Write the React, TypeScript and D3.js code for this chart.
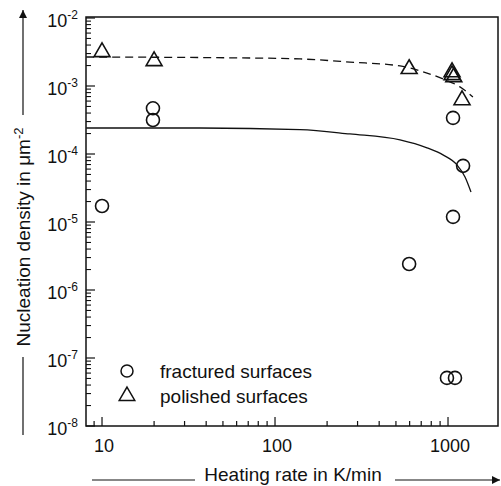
import React from 'react';
import * as d3 from 'd3';

// measured points
const fracturedRate = [10, 19.7, 19.7, 596, 986, 1097, 1069, 1069, 1222];
const fracturedDensity = [1.72e-5, 4.7e-4, 3.16e-4, 2.41e-6, 5.1e-8, 5.1e-8, 3.4e-4, 1.19e-5, 6.7e-5];
const polishedRate = [10, 20, 596, 1055, 1055, 1080, 1205];
const polishedDensity = [3.16e-3, 2.33e-3, 1.78e-3, 1.6e-3, 1.45e-3, 1.35e-3, 6.2e-4];

// fitted curves
const fitFracturedRate = [8.1, 36.8, 139.7, 271, 528, 756, 935, 1128, 1254, 1358];
const fitFracturedDensity = [2.41e-4, 2.41e-4, 2.29e-4, 1.97e-4, 1.61e-4, 1.23e-4, 9.7e-5, 6.9e-5, 4.6e-5, 2.76e-5];
const fitPolishedRate = [8.1, 71.6, 140, 271, 528, 756, 935, 1172, 1393];
const fitPolishedDensity = [2.67e-3, 2.58e-3, 2.5e-3, 2.25e-3, 1.97e-3, 1.55e-3, 1.27e-3, 9.7e-4, 6.9e-4];

const xTickValues = [10, 100, 1000];
const yExponents = [-2, -3, -4, -5, -6, -7, -8];

const width = 501;
const height = 486;
const left = 86, right = 498, top = 18, bottom = 426;

const font = 'Arial, "Liberation Sans", sans-serif';

export default function App() {
  const x = d3.scaleLog().domain([8.08, 1945]).range([left, right]);
  const y = d3.scaleLog().domain([1e-8, 1e-2]).range([bottom, top]);

  const line = d3.line<[number, number]>()
    .x(d => x(d[0]))
    .y(d => y(d[1]))
    .curve(d3.curveMonotoneX);

  const solid = line(fitFracturedRate.map((r, i) => [r, fitFracturedDensity[i]]) as [number, number][]) || '';
  const dashed = line(fitPolishedRate.map((r, i) => [r, fitPolishedDensity[i]]) as [number, number][]) || '';

  const tri = d3.symbol().type(d3.symbolTriangle).size(110)() || '';
  const triLegend = d3.symbol().type(d3.symbolTriangle).size(105)() || '';

  // minor ticks
  const xMinor: number[] = [];
  for (let dec = 1; dec <= 1000; dec *= 10) {
    for (let k = 1; k <= 9; k++) {
      const v = dec * k;
      if (v >= 8.08 && v <= 1945) xMinor.push(v);
    }
  }
  const yMinor: number[] = [];
  for (let e = -8; e < -2; e++) {
    for (let k = 2; k <= 9; k++) yMinor.push(k * Math.pow(10, e));
  }

  return (
    <svg width={width} height={height} style={{ position: 'absolute', left: 0, top: 0, background: '#fff' }}
      fontFamily={font}>
      <defs>
        <marker id="arr" viewBox="0 0 10 10" refX="10" refY="5" markerWidth="10" markerHeight="8"
          markerUnits="userSpaceOnUse" orient="auto">
          <path d="M0,0 L10,5 L0,10 z" fill="#111" />
        </marker>
      </defs>

      {/* frame */}
      <rect x={left} y={top - 1} width={right - left} height={bottom - top + 1}
        fill="none" stroke="#111" strokeWidth={1.5} />

      {/* x ticks */}
      {xMinor.map((v, i) => {
        const major = xTickValues.includes(v);
        return <line key={'xm' + i} x1={x(v)} x2={x(v)} y1={bottom} y2={bottom - (major ? 9 : 5)}
          stroke="#111" strokeWidth={1.2} />;
      })}
      {xTickValues.map(v => (
        <text key={'xl' + v} x={x(v) + 2} y={452} fontSize={18} textAnchor="middle" fill="#111">{v}</text>
      ))}

      {/* y ticks */}
      {yMinor.map((v, i) => (
        <line key={'ym' + i} x1={left} x2={left + 5} y1={y(v)} y2={y(v)} stroke="#111" strokeWidth={1.1} />
      ))}
      {yExponents.map(e => (
        <g key={'yl' + e}>
          <line x1={left} x2={left + 9} y1={y(Math.pow(10, e))} y2={y(Math.pow(10, e))} stroke="#111" strokeWidth={1.2} />
          <text x={78} y={y(Math.pow(10, e)) + 9} fontSize={18} textAnchor="end" fill="#111">
            10<tspan dy={-8} fontSize={12}>{String(e)}</tspan>
          </text>
        </g>
      ))}

      {/* curves */}
      <path d={solid} fill="none" stroke="#111" strokeWidth={1.3} />
      <path d={dashed} fill="none" stroke="#111" strokeWidth={1.3} strokeDasharray="8,5" />

      {/* points */}
      {fracturedRate.map((r, i) => (
        <circle key={'f' + i} cx={x(r)} cy={y(fracturedDensity[i])} r={6.5} fill="none" stroke="#111" strokeWidth={1.6} />
      ))}
      {polishedRate.map((r, i) => (
        <path key={'p' + i} d={tri} transform={`translate(${x(r)},${y(polishedDensity[i])})`}
          fill="none" stroke="#111" strokeWidth={1.6} />
      ))}

      {/* legend */}
      <circle cx={127} cy={371} r={6} fill="none" stroke="#111" strokeWidth={1.5} />
      <text x={160} y={378} fontSize={19} fill="#111">fractured surfaces</text>
      <path d={triLegend} transform="translate(127,396)" fill="none" stroke="#111" strokeWidth={1.5} />
      <text x={160} y={403} fontSize={19} fill="#111">polished surfaces</text>

      {/* x axis title */}
      <line x1={92} x2={195} y1={480} y2={480} stroke="#111" strokeWidth={1.2} />
      <text x={293} y={481} fontSize={19} textAnchor="middle" fill="#111">Heating rate in K/min</text>
      <line x1={395} x2={500} y1={480} y2={480} stroke="#111" strokeWidth={1.2} markerEnd="url(#arr)" />

      {/* y axis title */}
      <line x1={23} x2={23} y1={435} y2={357} stroke="#111" strokeWidth={1.2} />
      <text transform="translate(30,237) rotate(-90)" fontSize={19} textAnchor="middle" fill="#111">
        Nucleation density in μm<tspan dy={-7} fontSize={13}>-2</tspan>
      </text>
      <line x1={23} x2={23} y1={115} y2={10} stroke="#111" strokeWidth={1.2} markerEnd="url(#arr)" />
    </svg>
  );
}
